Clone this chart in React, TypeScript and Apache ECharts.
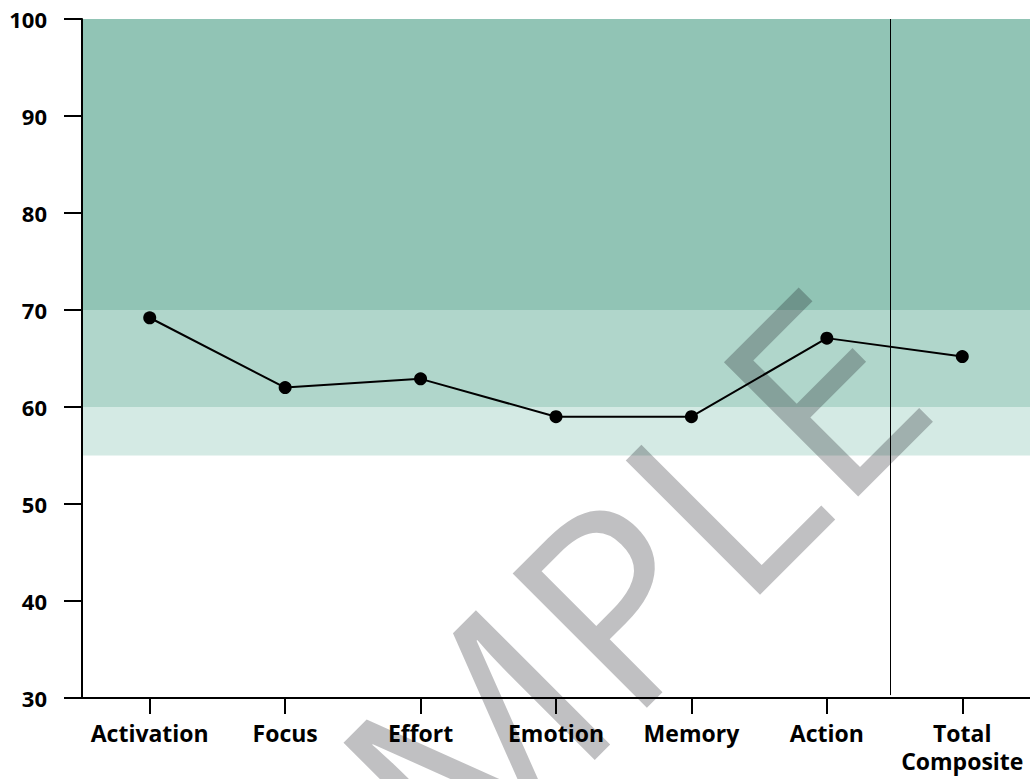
import React, { useEffect, useRef } from "react";
import * as echarts from "echarts";

const categories = ["Activation", "Focus", "Effort", "Emotion", "Memory", "Action", "Total\nComposite"];
const scores = [69.2, 62, 62.9, 59, 59, 67.1, 65.2];
const yTicks = { min: 30, max: 100, interval: 10 };
const bands = [
  { from: 70, to: 100, color: "#91C4B5" },
  { from: 60, to: 70, color: "#B0D6CB" },
  { from: 55, to: 60, color: "#D4EAE4" },
];
const dividerPosition = 5.465;
const dividerBottom = 30.3;
const watermarkText = "SAMPLE";

export default function App() {
  const ref = useRef<HTMLDivElement>(null);
  useEffect(() => {
    if (!ref.current) return;
    const chart = echarts.init(ref.current, null, { renderer: "svg" });
    const font = "'Open Sans', 'Noto Sans', sans-serif";
    chart.setOption({
      animation: false,
      backgroundColor: "#ffffff",
      grid: { left: 82, right: 0, top: 19, bottom: 81, containLabel: false },
      xAxis: [
        {
          type: "category",
          data: categories,
          boundaryGap: true,
          z: 150,
          axisLine: { show: true, onZero: false, lineStyle: { color: "#000", width: 2 } },
          axisTick: { show: true, alignWithLabel: true, length: 16, lineStyle: { color: "#000", width: 2 } },
          axisLabel: {
            color: "#000",
            fontFamily: font,
            fontWeight: "bold",
            fontSize: 23,
            lineHeight: 28,
            margin: 21,
            interval: 0,
          },
          splitLine: { show: false },
        },
        {
          type: "value",
          min: -0.5,
          max: categories.length - 0.5,
          show: false,
          position: "bottom",
        },
      ],
      yAxis: {
        type: "value",
        min: yTicks.min,
        max: yTicks.max,
        interval: yTicks.interval,
        z: 150,
        axisLine: { show: true, onZero: false, lineStyle: { color: "#000", width: 2 } },
        axisTick: { show: true, length: 18, lineStyle: { color: "#000", width: 2 } },
        axisLabel: {
          color: "#000",
          fontFamily: font,
          fontWeight: "bold",
          fontSize: 22,
          margin: 35,
        },
        splitLine: { show: false },
      },
      graphic: [
        {
          type: "text",
          x: 518,
          y: 691,
          rotation: Math.PI / 4,
          z: 50,
          silent: true,
          style: {
            text: watermarkText,
            fill: "rgba(10,10,20,0.26)",
            font: `400 266px 'Open Sans', 'Noto Sans', sans-serif`,
            textAlign: "center",
            textVerticalAlign: "middle",
          },
        },
      ],
      series: [
        {
          type: "line",
          name: "bands",
          xAxisIndex: 0,
          data: [],
          z: 0,
          silent: true,
          markArea: {
            silent: true,
            z: 0,
            data: bands.map((b) => [
              { yAxis: b.to, itemStyle: { color: b.color } },
              { yAxis: b.from },
            ]),
          },
        },
        {
          type: "line",
          name: "Score",
          xAxisIndex: 0,
          data: scores,
          z: 100,
          symbol: "circle",
          symbolSize: 13,
          lineStyle: { color: "#000", width: 2 },
          itemStyle: { color: "#000" },
        },
        {
          type: "line",
          name: "divider",
          xAxisIndex: 1,
          data: [],
          z: 100,
          silent: true,
          markLine: {
            silent: true,
            z: 100,
            symbol: "none",
            label: { show: false },
            lineStyle: { color: "#000", width: 1, type: "solid" },
            data: [[{ coord: [dividerPosition, yTicks.max] }, { coord: [dividerPosition, dividerBottom] }]],
          },
        },
      ],
    });
    return () => chart.dispose();
  }, []);
  return <div ref={ref} style={{ position: "fixed", left: 0, top: 0, width: 1030, height: 779 }} />;
}
